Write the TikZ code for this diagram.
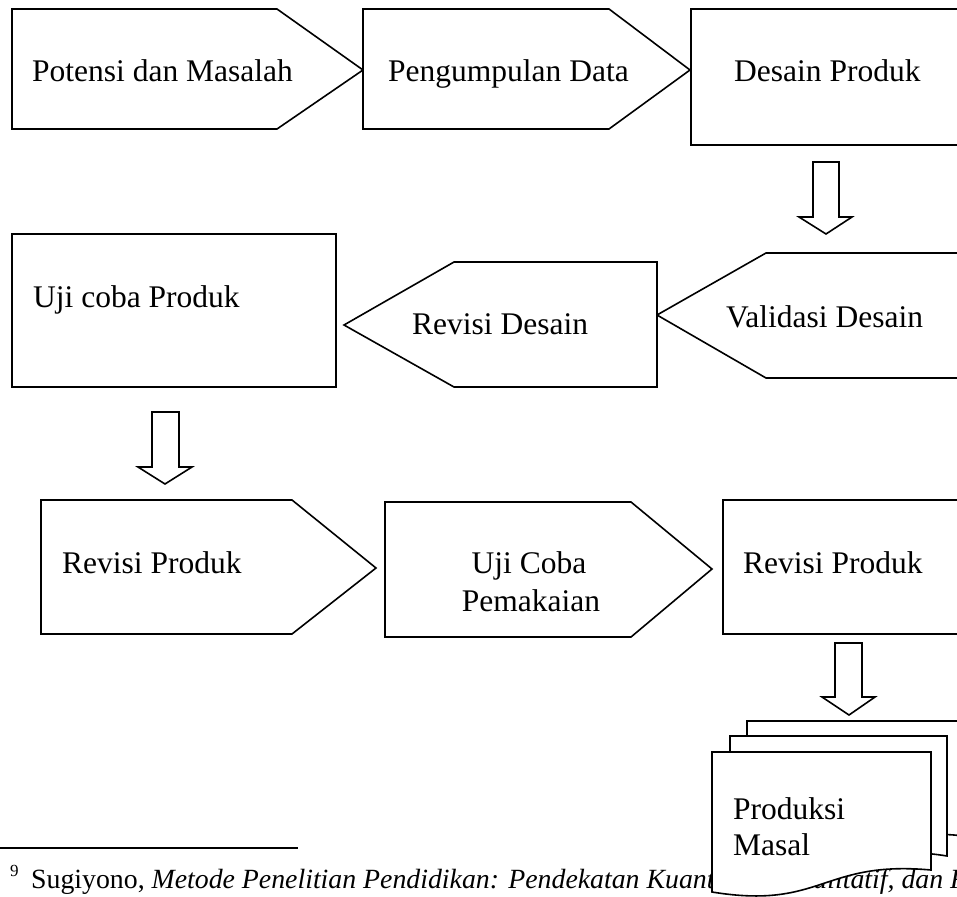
\documentclass[tikz,border=0pt]{standalone}
\usepackage{fontspec}
\setmainfont{Liberation Serif}
\begin{document}
\begin{tikzpicture}[x=1pt,y=-1pt,
  shp/.style={draw=black,line width=1.6pt,fill=white,line join=miter},
  lbl/.style={anchor=base west,inner sep=0pt,font=\fontsize{31.5}{36}\selectfont},
  clbl/.style={anchor=base,inner sep=0pt,font=\fontsize{31.5}{36}\selectfont},
  fn/.style={anchor=base west,inner sep=0pt,font=\fontsize{27.8}{33}\selectfont}]
\useasboundingbox (0,0) rectangle (957,896);
\clip (0,0) rectangle (957,896);
% ---- top row
\draw[shp] (12,9) -- (277,9) -- (363,70) -- (277,129) -- (12,129) -- cycle;
\draw[shp] (363,9) -- (609,9) -- (690,70) -- (609,129) -- (363,129) -- cycle;
\draw[shp] (691,9) rectangle (975,145);
\node[lbl] (potensi) at (32,82) {Potensi dan Masalah};
\node[lbl] (pengumpulan) at (388,82) {Pengumpulan Data};
\node[lbl] (desain) at (734,82) {Desain Produk};
% block arrow 1
\draw[shp] (813,162) -- (839,162) -- (839,217) -- (852,217) -- (826,234) -- (799,217) -- (813,217) -- cycle;
% ---- middle row
\draw[shp] (975,253) -- (766,253) -- (657,315) -- (766,378) -- (975,378);
\draw[shp] (12,234) rectangle (336,387);
\draw[shp] (657,262) -- (454,262) -- (344,325) -- (454,387) -- (657,387) -- cycle;
\node[lbl] (validasi) at (726,327) {Validasi Desain};
\node[lbl] (ujicoba) at (33,307) {Uji coba Produk};
\node[lbl] (revdesain) at (412,334) {Revisi Desain};
% block arrow 2
\draw[shp] (152,412) -- (179,412) -- (179,467) -- (192,467) -- (165,484) -- (138,467) -- (152,467) -- cycle;
% ---- bottom row
\draw[shp] (41,500) -- (292,500) -- (376,568) -- (292,634) -- (41,634) -- cycle;
\draw[shp] (385,502) -- (631,502) -- (712,569) -- (631,637) -- (385,637) -- cycle;
\draw[shp] (723,500) rectangle (975,634);
\node[lbl] (revprodL) at (62,573) {Revisi Produk};
\node[clbl] (ujicoba1) at (529,573) {Uji Coba};
\node[clbl] (ujicoba2) at (531,611) {Pemakaian};
\node[lbl] (revprodR) at (743,573) {Revisi Produk};
% block arrow 3
\draw[shp] (835,643) -- (862,643) -- (862,697) -- (875,697) -- (849,715) -- (822,697) -- (835,697) -- cycle;
% ---- footnote
\draw[line width=1.5pt] (0,848) -- (298,848);
\node[anchor=base west,inner sep=0pt,font=\fontsize{17}{20}\selectfont] (fnmark) at (10,876) {9};
\node[fn] (fntext) at (31,888) {Sugiyono, \textit{Metode Penelitian Pendidikan: Pendekatan Kuantitatif, Kualitatif, dan R\&D}};
% ---- multi-document
\draw[shp] (747,860) -- (747,721) -- (963,721) -- (963,836) .. controls (890,826) and (880,870) .. (747,860) -- cycle;
\draw[shp] (730,872) -- (730,736) -- (947,736) -- (947,856) .. controls (850,840) and (840,890) .. (730,872) -- cycle;
\draw[shp] (712,892) -- (712,752) -- (931,752) -- (931,870) .. controls (822,860) and (822,910) .. (712,892) -- cycle;
\node[lbl] (produksi1) at (733,819) {Produksi};
\node[lbl] (produksi2) at (733,855) {Masal};
\end{tikzpicture}
\end{document}
